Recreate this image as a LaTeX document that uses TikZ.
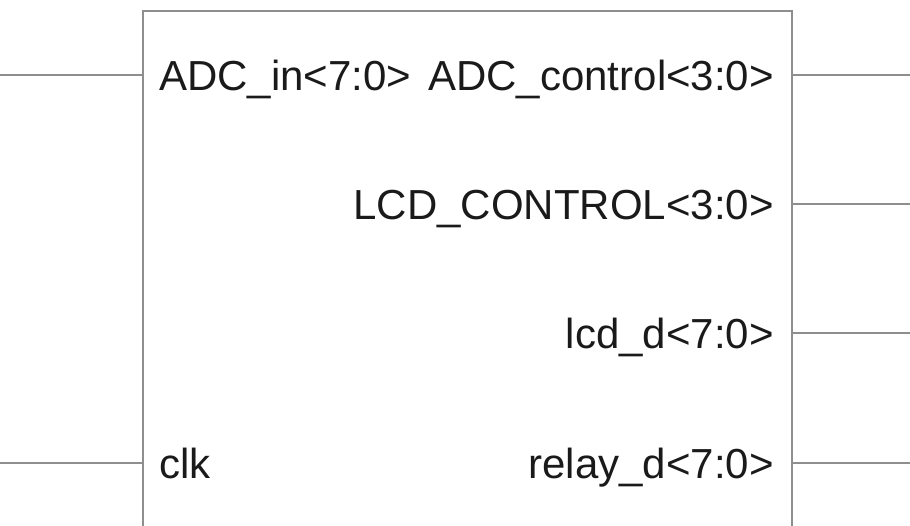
\documentclass[tikz,border=0pt]{standalone}
\usepackage{fontspec}
\setmainfont{Liberation Sans}
\usetikzlibrary{calc}
\definecolor{pingray}{HTML}{8E8E8E}
\definecolor{labelink}{HTML}{1A1A1A}

\begin{document}
\begin{tikzpicture}[x=1pt, y=-1pt,
		pin/.style={draw=pingray, line width=1.6pt},
		portlabel/.style={inner sep=0pt, text=labelink, font=\fontsize{42}{49}\selectfont}]
			\useasboundingbox (0, 0) rectangle (910, 525);
			\clip (0, 0) rectangle (910, 525);
			\coordinate (topleft) at (143, 11);
			\coordinate (bottomright) at (792, 560);
			
			\draw[pin] (topleft) rectangle (bottomright);
			
			% left side
			\coordinate (adcinend) at (0, 75);
			\coordinate (adcinpin) at (143, 75);
			\coordinate (clkend) at (0, 463);
			\coordinate (clkpin) at (143, 463);
			
			% right side
			\coordinate (adcctrlpin) at (792, 75);
			\coordinate (adcctrlend) at (910, 75);
			\coordinate (lcdctrlpin) at (792, 204);
			\coordinate (lcdctrlend) at (910, 204);
			\coordinate (lcddpin) at (792, 333);
			\coordinate (lcddend) at (910, 333);
			\coordinate (relaypin) at (792, 463);
			\coordinate (relayend) at (910, 463);
			
			\node[portlabel, anchor=base west] (adcinlabel) at (159, 90) {ADC\_in<7:0>};
			\node[portlabel, anchor=base west] (clklabel) at (159, 478) {clk};
			
			\node[portlabel, anchor=base east] (adcctrllabel) at (774, 90) {ADC\_control<3:0>};
			\node[portlabel, anchor=base east] (lcdctrllabel) at (774, 219) {LCD\_CONTROL<3:0>};
			\node[portlabel, anchor=base east] (lcddlabel) at (774, 348) {lcd\_d<7:0>};
			\node[portlabel, anchor=base east] (relaylabel) at (774, 478) {relay\_d<7:0>};
			
			\draw[pin] (adcinend) -- (adcinpin);
			\draw[pin] (clkend) -- (clkpin);
			\draw[pin] (adcctrlpin) -- (adcctrlend);
			\draw[pin] (lcdctrlpin) -- (lcdctrlend);
			\draw[pin] (lcddpin) -- (lcddend);
			\draw[pin] (relaypin) -- (relayend);
			
		\end{tikzpicture}
\end{document}
